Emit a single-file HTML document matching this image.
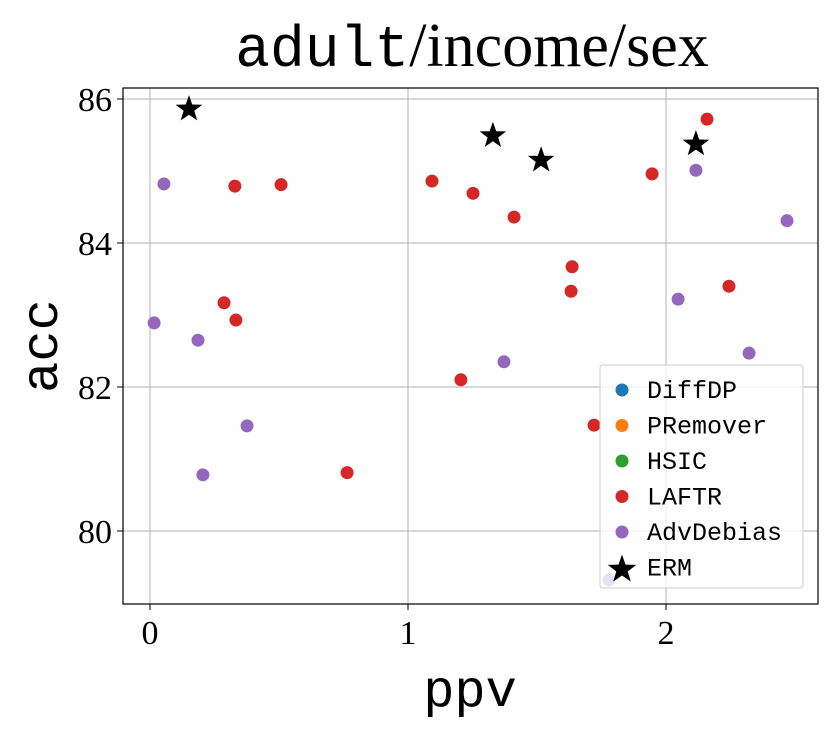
<!DOCTYPE html>
<html><head><meta charset="utf-8"><style>
html,body{margin:0;padding:0;background:#fff;}
svg text{fill:#000;}
</style></head><body>
<svg id="chart" width="830" height="726" xmlns="http://www.w3.org/2000/svg">
<text x="472" y="66" text-anchor="middle" font-size="62"><tspan font-family="Liberation Mono, monospace" font-size="58">adult</tspan><tspan font-family="Liberation Serif, serif">/income/sex</tspan></text>
<g id="grid"></g>
<g id="ticks"></g>
<g id="marks"></g>
<rect x="123" y="88" width="695" height="516" fill="none" stroke="#000" stroke-width="1.2"/>
<text x="470" y="706" text-anchor="middle" font-family="Liberation Mono, monospace" font-size="52">ppv</text>
<text transform="translate(57,346) rotate(-90)" text-anchor="middle" font-family="Liberation Mono, monospace" font-size="52">acc</text>
<g id="legend"></g>
</svg>
<script>
const xTicks=[0,1,2];
const yTicks=[80,82,84,86];
const seriesNames=["DiffDP","PRemover","HSIC","LAFTR","AdvDebias","ERM"];
const seriesColors=["#1f77b4","#ff7f0e","#2ca02c","#d62728","#9467bd","#000"];
const laftrX=[0.329,0.508,1.093,1.252,1.411,1.946,2.159,1.636,1.632,2.244,0.287,0.333,1.205,0.764,1.721];
const laftrY=[84.79,84.81,84.86,84.69,84.36,84.96,85.72,83.67,83.33,83.40,83.17,82.93,82.10,80.81,81.47];
const advX=[0.054,2.116,2.469,0.016,0.186,2.047,1.372,2.322,0.376,0.205,1.779];
const advY=[84.82,85.01,84.31,82.89,82.65,83.22,82.35,82.47,81.46,80.78,79.32];
const ermX=[0.151,1.329,1.516,2.116];
const ermY=[85.86,85.49,85.15,85.375];
const NS="http://www.w3.org/2000/svg";
const sx=v=>150+v*258, sy=v=>99+(86-v)*72;
function mk(tag,attrs,parent){const e=document.createElementNS(NS,tag);for(const k in attrs)e.setAttribute(k,attrs[k]);parent.appendChild(e);return e;}
const grid=document.getElementById('grid'),ticks=document.getElementById('ticks'),marks=document.getElementById('marks'),leg=document.getElementById('legend');
xTicks.forEach(t=>{
 const l=mk('line',{x1:sx(t),x2:sx(t),y1:88,y2:604,stroke:'#b0b0b0','stroke-width':1},grid);
 
 
 mk('line',{x1:sx(t),x2:sx(t),y1:604,y2:610,stroke:'#000'},ticks);
 const tx=mk('text',{x:sx(t),y:644,'text-anchor':'middle','font-family':'Liberation Serif, serif','font-size':34},ticks);
 tx.textContent=t;
 
 
});
yTicks.forEach(t=>{
 const l=mk('line',{x1:123,x2:818,y1:sy(t),y2:sy(t),stroke:'#b0b0b0','stroke-width':1},grid);
 
 
 mk('line',{x1:117,x2:123,y1:sy(t),y2:sy(t),stroke:'#000'},ticks);
 const tx=mk('text',{x:112,y:sy(t)+12,'text-anchor':'end','font-family':'Liberation Serif, serif','font-size':34},ticks);
 tx.textContent=t;
 
 
});
function star(cx,cy,r){let p=[];for(let i=0;i<10;i++){const a=-Math.PI/2+i*Math.PI/5;const rr=i%2?r*0.4:r;p.push((cx+rr*Math.cos(a)).toFixed(1)+','+(cy+rr*Math.sin(a)).toFixed(1));}return p.join(' ');}
laftrX.forEach((v,i)=>{const c=mk('circle',{cx:sx(v),cy:sy(laftrY[i]),r:6.5,fill:seriesColors[3]},marks);
 
 });
advX.forEach((v,i)=>{const c=mk('circle',{cx:sx(v),cy:sy(advY[i]),r:6.5,fill:seriesColors[4]},marks);
 
 });
ermX.forEach((v,i)=>{const s=mk('polygon',{points:star(sx(v),sy(ermY[i]),14),fill:'#000'},marks);
 
 });
mk('rect',{x:600,y:365,width:203,height:223,rx:3,fill:'#fff','fill-opacity':0.8,stroke:'#ccc'},leg);
seriesNames.forEach((n,i)=>{
 const y=390+i*35.5;
 if(i===5){mk('polygon',{points:star(622,y+2,15),fill:'#000'},leg);}
 else mk('circle',{cx:622,cy:y,r:6.5,fill:seriesColors[i]},leg);
 const t=mk('text',{x:647,y:y+8,'font-family':'Liberation Mono, monospace','font-size':25},leg);
 t.textContent=n;
 
 
});
</script>
</body></html>
